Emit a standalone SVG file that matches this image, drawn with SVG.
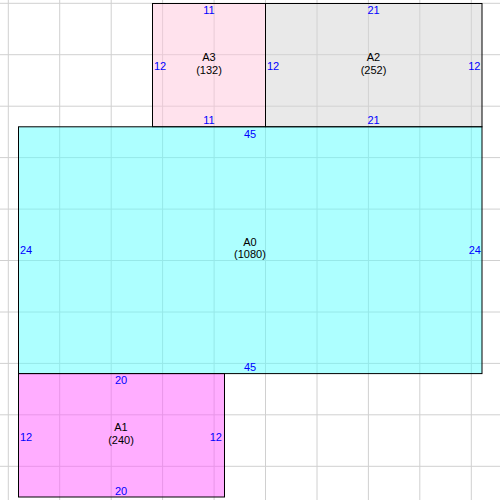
<svg xmlns="http://www.w3.org/2000/svg" width="500" height="500" viewBox="0 0 500 500">
<style>
.grid line{stroke:#d0d0d0;stroke-width:1}
.box{stroke:#000;stroke-width:1;fill-opacity:0.5}
.name{font-family:"Liberation Sans",Arial,sans-serif;font-size:11px;fill:#000;text-anchor:middle}
.dim{font-family:"Liberation Sans",Arial,sans-serif;font-size:11px;fill:#0000ff}
.c{text-anchor:middle}
.s{text-anchor:start}
.e{text-anchor:end}
</style>
<rect x="0" y="0" width="500" height="500" fill="#fff"/>
<g class="grid" id="grid">
<line x1="8.3" y1="0" x2="8.3" y2="500"/>
<line x1="59.7" y1="0" x2="59.7" y2="500"/>
<line x1="111.2" y1="0" x2="111.2" y2="500"/>
<line x1="162.6" y1="0" x2="162.6" y2="500"/>
<line x1="214.1" y1="0" x2="214.1" y2="500"/>
<line x1="265.5" y1="0" x2="265.5" y2="500"/>
<line x1="317" y1="0" x2="317" y2="500"/>
<line x1="368.4" y1="0" x2="368.4" y2="500"/>
<line x1="419.8" y1="0" x2="419.8" y2="500"/>
<line x1="471.3" y1="0" x2="471.3" y2="500"/>
<line x1="0" y1="3.3" x2="500" y2="3.3"/>
<line x1="0" y1="54.7" x2="500" y2="54.7"/>
<line x1="0" y1="106.2" x2="500" y2="106.2"/>
<line x1="0" y1="157.6" x2="500" y2="157.6"/>
<line x1="0" y1="209.1" x2="500" y2="209.1"/>
<line x1="0" y1="260.5" x2="500" y2="260.5"/>
<line x1="0" y1="312" x2="500" y2="312"/>
<line x1="0" y1="363.4" x2="500" y2="363.4"/>
<line x1="0" y1="414.8" x2="500" y2="414.8"/>
<line x1="0" y1="466.3" x2="500" y2="466.3"/>
</g>
<g id="connectors"></g>
<g id="A3">
<rect class="box" x="152.5" y="3.5" width="113" height="123.3" fill="#ffc6dc"/>
<text class="name" x="209" y="61">A3</text>
<text class="name" x="209" y="74">(132)</text>
<text class="dim c" x="209" y="14">11</text>
<text class="dim c" x="209" y="124">11</text>
<text class="dim s" x="154" y="70">12</text>
</g>
<g id="A2">
<rect class="box" x="265.5" y="3.5" width="216.5" height="123.3" fill="#d4d4d4"/>
<text class="name" x="373.5" y="61">A2</text>
<text class="name" x="373.5" y="74">(252)</text>
<text class="dim c" x="373.5" y="14">21</text>
<text class="dim c" x="373.5" y="124">21</text>
<text class="dim s" x="267" y="70">12</text>
<text class="dim e" x="480.5" y="70">12</text>
</g>
<g id="A0">
<rect class="box" x="18.5" y="126.8" width="463.5" height="246.8" fill="#5bffff"/>
<text class="name" x="250" y="246">A0</text>
<text class="name" x="250" y="258">(1080)</text>
<text class="dim c" x="250" y="137.5">45</text>
<text class="dim c" x="250" y="370.5">45</text>
<text class="dim s" x="20" y="254">24</text>
<text class="dim e" x="481" y="254">24</text>
</g>
<g id="A1">
<rect class="box" x="18.5" y="373.6" width="206" height="123.4" fill="#ff5bff"/>
<text class="name" x="121" y="431">A1</text>
<text class="name" x="121" y="444">(240)</text>
<text class="dim c" x="121" y="384">20</text>
<text class="dim c" x="121" y="494.5">20</text>
<text class="dim s" x="20" y="441">12</text>
<text class="dim e" x="222" y="441">12</text>
</g>
</svg>
